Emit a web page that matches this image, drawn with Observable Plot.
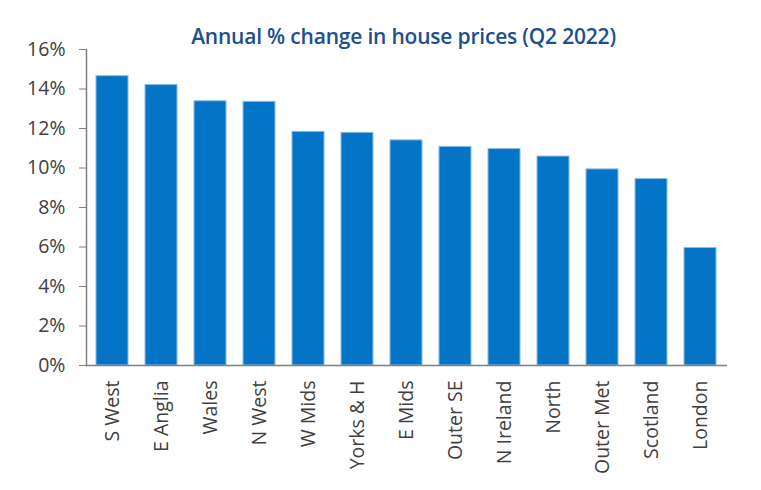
<!DOCTYPE html>
<html>
<head>
<meta charset="utf-8">
<script src="https://cdn.jsdelivr.net/npm/d3@7"></script>
<script src="https://cdn.jsdelivr.net/npm/@observablehq/plot@0.6"></script>
<style>
  html, body { margin: 0; padding: 0; background: #fff; }
  #wrap { width: 761px; height: 490px; position: relative; overflow: hidden; }
  #title { height: 32px; box-sizing: border-box; padding-top: 25px; padding-left: 46px; text-align: center; overflow: visible;
    font-family: "Open Sans", sans-serif; font-weight: 600; font-size: 21px; color: #1d4f8f; line-height: 22px; letter-spacing: -0.2px; }
  #chart { position: relative; }
  #chart svg text { font-size: 19.5px !important; font-family: "Open Sans", sans-serif; }
</style>
</head>
<body>
<div id="wrap">
  <div id="title">Annual % change in house prices (Q2 2022)</div>
  <div id="chart"></div>
</div>
<script>
const regions = ["S West", "E Anglia", "Wales", "N West", "W Mids", "Yorks & H", "E Mids", "Outer SE", "N Ireland", "North", "Outer Met", "Scotland", "London"];
const change = [14.65, 14.2, 13.38, 13.35, 11.83, 11.78, 11.4, 11.07, 10.96, 10.58, 9.93, 9.44, 5.95];
const yTicks = [0, 2, 4, 6, 8, 10, 12, 14, 16];

const data = regions.map((r, i) => ({region: r, value: change[i]}));

const chart = Plot.plot({
  width: 761,
  height: 458,
  marginTop: 17,
  marginBottom: 125,
  marginLeft: 86,
  marginRight: 34,
  style: {fontFamily: "Open Sans, sans-serif", fontSize: "20px", color: "#404040", background: "transparent"},
  x: {domain: regions, paddingInner: 0.34, paddingOuter: 0.18, label: null},
  y: {domain: [0, 16], label: null},
  marks: [
    Plot.barY(data, {x: "region", y: "value", fill: "#0474c6", stroke: "#8cbce6", strokeWidth: 1}),
    Plot.axisY({ticks: yTicks, tickFormat: d => d + "%", tickSize: 7, tickPadding: 14, stroke: "#7f7f7f", fill: "#404040", fontSize: 20, label: null}),
    Plot.axisX({tickSize: 0, tickPadding: 15, tickRotate: -90, fill: "#404040", fontSize: 20, label: null}),
    Plot.ruleY([0], {stroke: "#7f7f7f", strokeWidth: 1.5}),
    Plot.frame({anchor: "left", stroke: "#7f7f7f", strokeWidth: 1.5})
  ]
});
document.getElementById("chart").appendChild(chart);
</script>
</body>
</html>
